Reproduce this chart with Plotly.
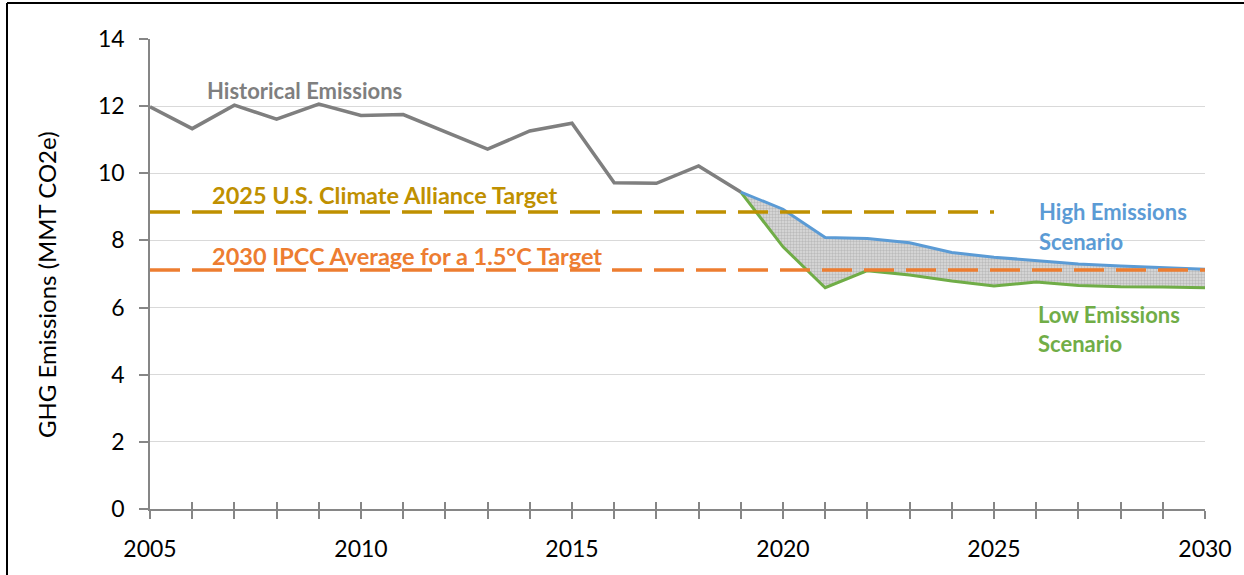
import plotly.graph_objects as go

# Historical and projected GHG emissions (MMT CO2e)
hist_years = list(range(2005, 2020))
hist_values = [11.98, 11.33, 12.03, 11.61, 12.06, 11.72, 11.75, 11.24, 10.72,
               11.26, 11.49, 9.72, 9.70, 10.22, 9.44]

proj_years = list(range(2019, 2031))
high_values = [9.44, 8.93, 8.09, 8.06, 7.93, 7.64, 7.50, 7.39, 7.30, 7.24, 7.19, 7.14]
low_values = [9.44, 7.81, 6.59, 7.10, 6.97, 6.79, 6.64, 6.76, 6.66, 6.62, 6.61, 6.59]

alliance_years = [2005, 2025]
alliance_target = [8.85, 8.85]
ipcc_years = [2005, 2030]
ipcc_target = [7.12, 7.12]

x_tick_years = list(range(2005, 2031))
x_tick_labels = [str(y) if y % 5 == 0 else "" for y in x_tick_years]
y_ticks = [0, 2, 4, 6, 8, 10, 12, 14]

GREY = "#7f7f7f"
GOLD = "#bf9000"
ORANGE = "#ed7d31"
BLUE = "#5b9bd5"
GREEN = "#70ad47"
FONT = "Lato"

fig = go.Figure()

fig.add_trace(go.Scatter(x=proj_years, y=low_values, mode="lines",
                         line=dict(color=GREEN, width=3), hoverinfo="skip"))
fig.add_trace(go.Scatter(x=proj_years, y=high_values, mode="lines",
                         line=dict(color=BLUE, width=3), fill="tonexty",
                         fillcolor="rgba(0,0,0,0)",
                         fillpattern=dict(shape=".", fgcolor="#9a9a9a", bgcolor="#dcdcdc",
                                          size=3, solidity=0.5),
                         hoverinfo="skip"))
fig.add_trace(go.Scatter(x=hist_years, y=hist_values, mode="lines",
                         line=dict(color=GREY, width=3.5), hoverinfo="skip"))
fig.add_trace(go.Scatter(x=alliance_years, y=alliance_target, mode="lines",
                         line=dict(color=GOLD, width=3.5, dash="30px,12px"), hoverinfo="skip"))
fig.add_trace(go.Scatter(x=ipcc_years, y=ipcc_target, mode="lines",
                         line=dict(color=ORANGE, width=3.5, dash="30px,12px"), hoverinfo="skip"))

# invisible trace on the overlay axis so its inner ticks are drawn
fig.add_trace(go.Scatter(x=[2005, 2030], y=[0, 0], xaxis="x2", mode="lines",
                         line=dict(width=0), showlegend=False, hoverinfo="skip"))

def label(text, x, y, color, size):
    fig.add_annotation(x=x, y=y, text=f"<b>{text}</b>", showarrow=False,
                       xanchor="left", yanchor="middle",
                       font=dict(family=FONT, size=size, color=color))

label("Historical Emissions", 2006.30, 12.48, GREY, 22)
label("2025 U.S. Climate Alliance Target", 2006.42, 9.35, GOLD, 23.5)
label("2030 IPCC Average for a 1.5°C Target", 2006.42, 7.54, ORANGE, 23.5)
label("High Emissions", 2026.02, 8.85, BLUE, 22)
label("Scenario", 2026.02, 7.98, BLUE, 22)
label("Low Emissions", 2026.00, 5.78, GREEN, 22)
label("Scenario", 2026.00, 4.92, GREEN, 22)

# y-axis title
fig.add_annotation(x=(46 - 150) / 1055, y=(509 - 285) / 470, xref="paper", yref="paper",
                   text="GHG Emissions (MMT CO2e)", textangle=-90, showarrow=False,
                   xanchor="center", yanchor="middle",
                   font=dict(family=FONT, size=24, color="#000000"))

# frame around the figure
frame = dict(color="#000000", width=2)
fig.add_shape(type="line", xref="paper", yref="paper",
              x0=(7 - 150) / 1055, x1=(1244 - 150) / 1055,
              y0=(509 - 3) / 470, y1=(509 - 3) / 470, line=frame)
fig.add_shape(type="line", xref="paper", yref="paper",
              x0=(7 - 150) / 1055, x1=(7 - 150) / 1055,
              y0=(509 - 3) / 470, y1=(509 - 580) / 470, line=frame)

fig.update_layout(
    width=1244, height=575,
    margin=dict(l=150, r=39, t=39, b=66),
    paper_bgcolor="white", plot_bgcolor="white",
    showlegend=False,
    font=dict(family=FONT, size=20, color="#000000"),
    xaxis=dict(range=[2005, 2030], tickmode="array", tickvals=x_tick_years,
               ticktext=x_tick_labels, ticks="outside", ticklen=8, tickwidth=1.5,
               tickcolor="#868686", showline=True, linecolor="#868686", linewidth=1.5,
               showgrid=False, zeroline=False, ticklabelstandoff=11,
               tickfont=dict(family=FONT, size=23, color="#000000")),
    xaxis2=dict(range=[2005, 2030], overlaying="x", anchor="y", side="bottom",
                tickmode="array", tickvals=x_tick_years, ticktext=[""] * len(x_tick_years),
                ticks="inside", ticklen=7, tickwidth=1.5, tickcolor="#868686",
                showline=False, showgrid=False, zeroline=False),
    yaxis=dict(range=[0, 14], tickmode="array", tickvals=y_ticks, ticks="outside",
               ticklen=9, tickwidth=1.5, tickcolor="#868686",
               showline=True, linecolor="#868686", linewidth=1.5,
               showgrid=True, gridcolor="#d9d9d9", gridwidth=1.2, zeroline=False,
               ticklabelstandoff=10,
               tickfont=dict(family=FONT, size=23, color="#000000")),
)

fig.write_html("out.html")
